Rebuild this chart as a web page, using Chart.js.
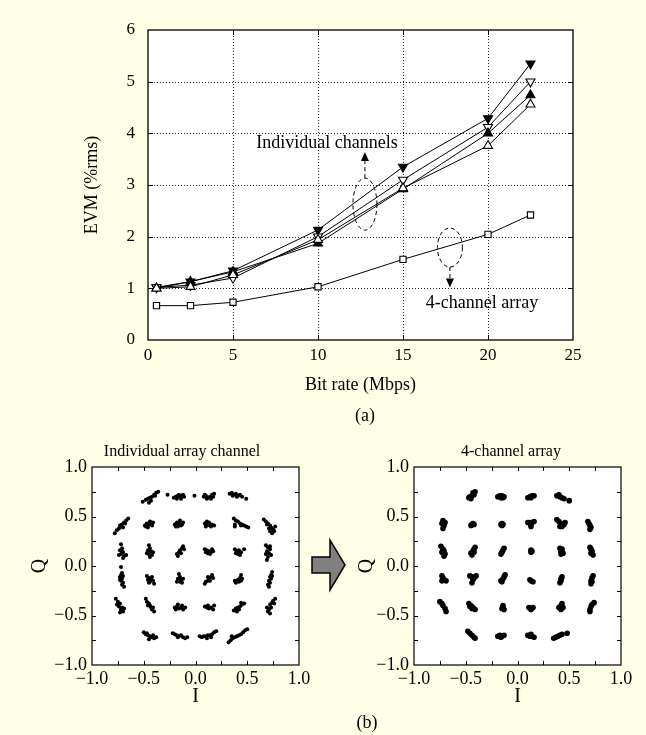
<!DOCTYPE html>
<html>
<head>
<meta charset="utf-8">
<script src="https://cdn.jsdelivr.net/npm/chart.js@4.4.1/dist/chart.umd.min.js"></script>
<style>
  html, body { margin: 0; padding: 0; }
  body { width: 646px; height: 735px; background: #ffffe6; position: relative; overflow: hidden; font-family: 'Liberation Serif', serif; }
  canvas { position: absolute; }
  #evm { left: 0; top: 0; }
  #chan { left: 0; top: 430px; }
  #arr { left: 320px; top: 430px; }
  .cap { position: absolute; font-size: 18px; color: #000; transform: translate(-50%, -50%); white-space: nowrap; }
  #bigArrow { position: absolute; left: 0; top: 0; }
</style>
</head>
<body>
<canvas id="evm" width="646" height="430"></canvas>
<canvas id="chan" width="320" height="305"></canvas>
<canvas id="arr" width="326" height="305"></canvas>
<svg id="bigArrow" width="646" height="735">
  <polygon points="312,557 330,557 330,540 345,565 330,590 330,573 312,573" fill="#808080" stroke="#000" stroke-width="1.5"/>
</svg>
<div class="cap" style="left:365px; top:415px;">(a)</div>
<div class="cap" style="left:367px; top:722px;">(b)</div>
<script>
// (a) EVM vs bit rate
const bitRate = [0.5, 2.5, 5, 10, 15, 20, 22.5];
const evmFilledDown = [1.02, 1.13, 1.34, 2.13, 3.35, 4.29, 5.35];
const evmOpenDown = [1.02, 1.06, 1.20, 2.00, 3.10, 4.12, 5.00];
const evmFilledUp = [1.00, 1.13, 1.32, 1.87, 2.92, 4.00, 4.74];
const evmOpenUp = [1.00, 1.03, 1.26, 1.94, 2.94, 3.76, 4.56];
const evmArray = [0.665, 0.665, 0.73, 1.03, 1.56, 2.045, 2.42];
const evmXTicks = [5, 10, 15, 20];
const evmYTicks = [1, 2, 3, 4, 5];

// (b) constellations, [I, Q]
const channelPoints = [
  // row Q ~ 0.70
  [-0.51,0.65],[-0.48,0.67],[-0.46,0.68],[-0.44,0.69],[-0.42,0.70],[-0.40,0.72],[-0.38,0.74],[-0.36,0.75],[-0.45,0.64],[-0.43,0.66],[-0.39,0.71],[-0.27,0.72],
  [-0.21,0.69],[-0.19,0.70],[-0.17,0.71],[-0.15,0.70],[-0.13,0.71],[-0.11,0.70],[-0.18,0.68],[-0.14,0.68],[-0.12,0.72],[-0.16,0.72],[-0.01,0.71],
  [0.08,0.70],[0.10,0.71],[0.12,0.69],[0.14,0.70],[0.16,0.72],[0.18,0.73],[0.11,0.68],[0.15,0.68],[0.09,0.72],[0.17,0.70],
  [0.33,0.73],[0.35,0.74],[0.37,0.72],[0.39,0.73],[0.41,0.71],[0.43,0.72],[0.45,0.70],[0.49,0.68],[0.36,0.71],[0.40,0.70],
  // row Q ~ 0.42
  [-0.78,0.33],[-0.76,0.36],[-0.74,0.38],[-0.72,0.40],[-0.71,0.42],[-0.69,0.44],[-0.67,0.46],[-0.65,0.48],[-0.73,0.41],[-0.70,0.39],[-0.68,0.43],
  [-0.49,0.41],[-0.47,0.43],[-0.45,0.42],[-0.43,0.44],[-0.42,0.41],[-0.46,0.39],[-0.44,0.45],[-0.48,0.40],[-0.41,0.44],
  [-0.20,0.42],[-0.18,0.44],[-0.16,0.43],[-0.14,0.41],[-0.12,0.44],[-0.17,0.40],[-0.15,0.46],[-0.13,0.42],[-0.19,0.40],
  [0.09,0.43],[0.11,0.45],[0.12,0.42],[0.14,0.41],[0.16,0.42],[0.18,0.41],[0.10,0.40],[0.13,0.44],[0.15,0.40],
  [0.37,0.48],[0.39,0.46],[0.41,0.45],[0.43,0.43],[0.45,0.42],[0.47,0.41],[0.49,0.40],[0.51,0.39],[0.38,0.42],[0.38,0.40],[0.44,0.41],
  [0.66,0.47],[0.68,0.45],[0.70,0.43],[0.72,0.41],[0.73,0.39],[0.75,0.37],[0.76,0.35],[0.74,0.33],[0.71,0.38],[0.69,0.42],[0.77,0.40],[0.72,0.35],
  // row Q ~ 0.15
  [-0.72,0.22],[-0.71,0.18],[-0.73,0.16],[-0.70,0.14],[-0.72,0.12],[-0.69,0.10],[-0.74,0.11],[-0.70,0.08],[-0.67,0.11],[-0.71,0.15],
  [-0.45,0.21],[-0.44,0.18],[-0.46,0.16],[-0.43,0.15],[-0.41,0.14],[-0.45,0.12],[-0.42,0.11],[-0.44,0.09],[-0.47,0.13],
  [-0.12,0.20],[-0.13,0.18],[-0.15,0.16],[-0.16,0.14],[-0.18,0.12],[-0.14,0.13],[-0.17,0.10],[-0.11,0.17],
  [0.09,0.17],[0.11,0.16],[0.13,0.15],[0.15,0.14],[0.17,0.15],[0.12,0.13],[0.14,0.12],[0.16,0.17],[0.10,0.14],
  [0.38,0.17],[0.40,0.15],[0.42,0.16],[0.44,0.14],[0.43,0.11],[0.41,0.12],[0.47,0.17],[0.39,0.13],
  [0.68,0.21],[0.70,0.19],[0.72,0.17],[0.69,0.15],[0.71,0.13],[0.73,0.11],[0.70,0.09],[0.68,0.12],[0.72,0.20],[0.69,0.06],
  // row Q ~ -0.14
  [-0.72,-0.01],[-0.71,-0.07],[-0.72,-0.09],[-0.73,-0.11],[-0.71,-0.13],[-0.72,-0.15],[-0.70,-0.17],[-0.71,-0.19],[-0.69,-0.21],[-0.73,-0.14],[-0.70,-0.10],
  [-0.47,-0.10],[-0.45,-0.12],[-0.43,-0.13],[-0.41,-0.15],[-0.44,-0.16],[-0.46,-0.14],[-0.42,-0.11],[-0.40,-0.18],[-0.45,-0.17],
  [-0.16,-0.08],[-0.15,-0.11],[-0.17,-0.13],[-0.14,-0.14],[-0.12,-0.13],[-0.15,-0.16],[-0.13,-0.17],[-0.18,-0.16],
  [0.16,-0.09],[0.15,-0.11],[0.13,-0.13],[0.12,-0.15],[0.10,-0.16],[0.14,-0.15],[0.17,-0.12],[0.09,-0.18],[0.12,-0.11],
  [0.44,-0.09],[0.43,-0.12],[0.41,-0.14],[0.44,-0.15],[0.42,-0.16],[0.39,-0.17],[0.45,-0.13],[0.38,-0.15],
  [0.74,-0.06],[0.73,-0.09],[0.72,-0.11],[0.73,-0.13],[0.71,-0.15],[0.72,-0.17],[0.70,-0.19],[0.71,-0.21],[0.74,-0.10],
  // row Q ~ -0.42
  [-0.77,-0.33],[-0.75,-0.36],[-0.73,-0.38],[-0.74,-0.41],[-0.71,-0.42],[-0.72,-0.44],[-0.70,-0.46],[-0.73,-0.47],[-0.69,-0.43],[-0.76,-0.39],
  [-0.48,-0.33],[-0.47,-0.36],[-0.45,-0.38],[-0.44,-0.40],[-0.43,-0.42],[-0.42,-0.44],[-0.40,-0.46],[-0.41,-0.42],[-0.46,-0.40],
  [-0.20,-0.42],[-0.18,-0.41],[-0.16,-0.43],[-0.14,-0.42],[-0.12,-0.44],[-0.10,-0.42],[-0.17,-0.39],[-0.13,-0.40],[-0.19,-0.44],
  [0.09,-0.41],[0.11,-0.42],[0.13,-0.43],[0.15,-0.42],[0.17,-0.44],[0.12,-0.40],[0.18,-0.40],
  [0.37,-0.45],[0.39,-0.43],[0.41,-0.42],[0.43,-0.41],[0.45,-0.39],[0.47,-0.38],[0.40,-0.46],[0.42,-0.44],[0.44,-0.37],
  [0.77,-0.33],[0.75,-0.35],[0.74,-0.37],[0.72,-0.39],[0.73,-0.42],[0.71,-0.44],[0.70,-0.46],[0.72,-0.48],[0.76,-0.38],[0.69,-0.42],
  // row Q ~ -0.71
  [-0.50,-0.67],[-0.48,-0.69],[-0.46,-0.70],[-0.44,-0.71],[-0.42,-0.72],[-0.40,-0.73],[-0.38,-0.72],[-0.45,-0.74],[-0.47,-0.68],[-0.41,-0.70],
  [-0.22,-0.68],[-0.20,-0.69],[-0.18,-0.70],[-0.16,-0.71],[-0.14,-0.70],[-0.12,-0.72],[-0.10,-0.73],[-0.17,-0.72],[-0.08,-0.72],
  [0.04,-0.71],[0.06,-0.72],[0.08,-0.71],[0.10,-0.71],[0.12,-0.70],[0.14,-0.70],[0.16,-0.69],[0.18,-0.67],[0.20,-0.66],[0.11,-0.73],[0.15,-0.72],
  [0.32,-0.77],[0.34,-0.75],[0.36,-0.73],[0.38,-0.72],[0.40,-0.71],[0.42,-0.70],[0.44,-0.69],[0.46,-0.67],[0.48,-0.65],[0.50,-0.64],[0.35,-0.71]
];

const arrayPoints = [
  [-0.46,0.70],[-0.44,0.71],[-0.42,0.72],[-0.43,0.74],[-0.45,0.68],[-0.41,0.75],[-0.47,0.69],
  [-0.19,0.70],[-0.17,0.71],[-0.15,0.71],[-0.13,0.70],[-0.16,0.69],[-0.14,0.69],
  [0.10,0.69],[0.12,0.70],[0.14,0.71],[0.16,0.71],[0.13,0.69],
  [0.38,0.71],[0.40,0.72],[0.41,0.70],[0.43,0.69],[0.45,0.68],[0.50,0.66],
  [-0.72,0.46],[-0.73,0.43],[-0.71,0.41],[-0.72,0.38],[-0.70,0.44],
  [-0.45,0.41],[-0.44,0.42],[-0.43,0.43],[-0.42,0.42],
  [-0.16,0.42],[-0.14,0.42],[-0.15,0.43],[-0.15,0.41],
  [0.10,0.44],[0.12,0.44],[0.14,0.44],[0.16,0.45],[0.13,0.42],[0.13,0.40],
  [0.38,0.47],[0.40,0.45],[0.42,0.43],[0.43,0.40],[0.45,0.42],[0.46,0.44],[0.41,0.40],
  [0.68,0.45],[0.69,0.43],[0.70,0.41],[0.71,0.39],[0.70,0.37],
  [-0.74,0.20],[-0.72,0.17],[-0.71,0.15],[-0.73,0.14],[-0.70,0.12],[-0.71,0.10],
  [-0.41,0.19],[-0.42,0.17],[-0.43,0.15],[-0.45,0.13],[-0.44,0.11],[-0.42,0.14],
  [-0.13,0.18],[-0.14,0.16],[-0.15,0.14],[-0.16,0.12],
  [0.13,0.16],[0.14,0.15],[0.13,0.14],
  [0.41,0.18],[0.43,0.17],[0.42,0.15],[0.44,0.13],[0.42,0.12],
  [0.70,0.19],[0.71,0.17],[0.72,0.15],[0.71,0.13],[0.73,0.11],
  [-0.73,-0.10],[-0.72,-0.12],[-0.71,-0.14],[-0.73,-0.15],[-0.69,-0.15],
  [-0.46,-0.10],[-0.44,-0.11],[-0.42,-0.12],[-0.40,-0.10],[-0.43,-0.14],[-0.44,-0.17],
  [-0.12,-0.09],[-0.13,-0.11],[-0.14,-0.13],[-0.16,-0.15],[-0.15,-0.16],
  [0.12,-0.14],[0.13,-0.15],[0.15,-0.16],
  [0.43,-0.11],[0.42,-0.13],[0.42,-0.15],[0.41,-0.17],
  [0.73,-0.10],[0.72,-0.12],[0.71,-0.15],[0.71,-0.18],[0.72,-0.16],
  [-0.75,-0.36],[-0.73,-0.38],[-0.72,-0.40],[-0.70,-0.43],[-0.69,-0.46],
  [-0.47,-0.38],[-0.45,-0.40],[-0.43,-0.42],[-0.41,-0.44],[-0.44,-0.43],[-0.46,-0.41],
  [-0.14,-0.40],[-0.14,-0.42],[-0.13,-0.44],[-0.15,-0.43],
  [0.11,-0.42],[0.13,-0.43],[0.15,-0.42],[0.13,-0.44],
  [0.40,-0.42],[0.42,-0.40],[0.43,-0.38],[0.44,-0.42],[0.42,-0.44],
  [0.74,-0.37],[0.72,-0.39],[0.71,-0.41],[0.70,-0.44],[0.70,-0.46],
  [-0.48,-0.66],[-0.46,-0.68],[-0.44,-0.70],[-0.42,-0.72],[-0.41,-0.73],
  [-0.19,-0.71],[-0.17,-0.70],[-0.15,-0.71],[-0.13,-0.70],[-0.16,-0.72],
  [0.10,-0.70],[0.12,-0.71],[0.14,-0.71],[0.16,-0.72],[0.13,-0.69],
  [0.35,-0.73],[0.37,-0.72],[0.39,-0.71],[0.41,-0.70],[0.43,-0.69],[0.48,-0.68]
];
const iqMinorTicks = [-0.75, -0.5, -0.25, 0, 0.25, 0.5, 0.75];

const serif = 'Liberation Serif';

// white plot area, dotted grid, full box and inward ticks
const frame = {
  id: 'frame',
  beforeDatasetsDraw(chart, args, opts) {
    const {ctx, chartArea: a, scales: {x, y}} = chart;
    ctx.save();
    ctx.fillStyle = '#fff';
    ctx.fillRect(a.left, a.top, a.width, a.height);
    if (opts.grid) {
      ctx.strokeStyle = '#222';
      ctx.lineWidth = 1;
      ctx.setLineDash([1, 2]);
      opts.xTicks.forEach(v => {
        const px = Math.round(x.getPixelForValue(v)) + 0.5;
        ctx.beginPath(); ctx.moveTo(px, a.top); ctx.lineTo(px, a.bottom); ctx.stroke();
      });
      opts.yTicks.forEach(v => {
        const py = Math.round(y.getPixelForValue(v)) + 0.5;
        ctx.beginPath(); ctx.moveTo(a.left, py); ctx.lineTo(a.right, py); ctx.stroke();
      });
    }
    ctx.restore();
  },
  afterDatasetsDraw(chart, args, opts) {
    const {ctx, chartArea: a, scales: {x, y}} = chart;
    const t = opts.tickLen;
    ctx.save();
    ctx.strokeStyle = '#000';
    ctx.lineWidth = 1;
    opts.xTicks.forEach(v => {
      const px = Math.round(x.getPixelForValue(v)) + 0.5;
      ctx.beginPath();
      ctx.moveTo(px, a.bottom); ctx.lineTo(px, a.bottom - t);
      ctx.moveTo(px, a.top); ctx.lineTo(px, a.top + t);
      ctx.stroke();
    });
    opts.yTicks.forEach(v => {
      const py = Math.round(y.getPixelForValue(v)) + 0.5;
      ctx.beginPath();
      ctx.moveTo(a.left, py); ctx.lineTo(a.left + t, py);
      ctx.moveTo(a.right, py); ctx.lineTo(a.right - t, py);
      ctx.stroke();
    });
    ctx.lineWidth = opts.boxWidth;
    ctx.strokeRect(a.left, a.top, a.width, a.height);
    ctx.restore();
  }
};

// ellipses, dashed arrows and labels of panel (a)
const notes = {
  id: 'notes',
  afterDatasetsDraw(chart) {
    const {ctx, scales: {x, y}} = chart;
    const head = (cx, tipY, dir) => {
      ctx.beginPath();
      ctx.moveTo(cx, tipY);
      ctx.lineTo(cx - 4, tipY - dir * 9);
      ctx.lineTo(cx + 4, tipY - dir * 9);
      ctx.closePath();
      ctx.fill();
    };
    ctx.save();
    ctx.strokeStyle = '#000';
    ctx.fillStyle = '#000';
    ctx.lineWidth = 1;
    ctx.setLineDash([4, 3]);

    const c1x = x.getPixelForValue(12.76), c1y = y.getPixelForValue(2.63);
    ctx.beginPath(); ctx.ellipse(c1x, c1y, 12, 26, 0, 0, Math.PI * 2); ctx.stroke();
    ctx.beginPath(); ctx.moveTo(c1x, c1y - 26); ctx.lineTo(c1x, c1y - 43); ctx.stroke();

    const c2x = x.getPixelForValue(17.76), c2y = y.getPixelForValue(1.79);
    ctx.beginPath(); ctx.ellipse(c2x, c2y, 12.5, 19.5, 0, 0, Math.PI * 2); ctx.stroke();
    ctx.beginPath(); ctx.moveTo(c2x, c2y + 19.5); ctx.lineTo(c2x, c2y + 32); ctx.stroke();

    ctx.setLineDash([]);
    head(c1x, c1y - 52, -1);
    head(c2x, c2y + 40, 1);

    ctx.font = '18px "' + serif + '"';
    ctx.textAlign = 'center';
    ctx.textBaseline = 'middle';
    ctx.fillText('Individual channels', x.getPixelForValue(10.53), y.getPixelForValue(3.81));
    ctx.fillText('4-channel array', x.getPixelForValue(19.65), y.getPixelForValue(0.716));
    ctx.restore();
  }
};

const line = (data, style, fill, rotation) => ({
  data: bitRate.map((b, i) => ({x: b, y: data[i]})),
  showLine: true,
  borderColor: '#000',
  borderWidth: 1,
  pointStyle: style,
  rotation: rotation,
  pointRadius: style === 'rect' ? 4.4 : 5.2,
  pointBorderWidth: 1.1,
  pointBorderColor: '#000',
  pointBackgroundColor: fill
});

new Chart(document.getElementById('evm'), {
  type: 'scatter',
  data: {
    datasets: [
      line(evmArray, 'rect', '#fff', 0),
      line(evmOpenUp, 'triangle', '#fff', 0),
      line(evmFilledUp, 'triangle', '#000', 0),
      line(evmOpenDown, 'triangle', '#fff', 180),
      line(evmFilledDown, 'triangle', '#000', 180)
    ]
  },
  options: {
    responsive: false,
    animation: false,
    layout: { padding: { left: 81, right: 73, top: 30, bottom: 34 } },
    plugins: {
      legend: { display: false },
      tooltip: { enabled: false },
      frame: { grid: true, xTicks: evmXTicks, yTicks: evmYTicks, tickLen: 5, boxWidth: 1.3 }
    },
    scales: {
      x: {
        type: 'linear', min: 0, max: 25,
        afterFit: s => { s.height = 56; },
        grid: { display: false, drawTicks: false },
        border: { display: false },
        ticks: { stepSize: 5, color: '#000', padding: 5, font: { family: serif, size: 17 } },
        title: { display: true, text: 'Bit rate (Mbps)', color: '#000', padding: 0, font: { family: serif, size: 18 } }
      },
      y: {
        min: 0, max: 6,
        afterFit: s => { s.width = 67; },
        grid: { display: false, drawTicks: false },
        border: { display: false },
        ticks: { stepSize: 1, color: '#000', padding: 13, font: { family: serif, size: 17 } },
        title: { display: true, text: 'EVM (%rms)', color: '#000', padding: 0, font: { family: serif, size: 18 } }
      }
    }
  },
  plugins: [frame, notes]
});

const fmt = v => v.toFixed(1).replace('-', '\u2212');

const titleText = {
  id: 'titleText',
  afterDraw(chart, args, opts) {
    const {ctx} = chart;
    ctx.save();
    ctx.font = '16px "' + serif + '"';
    ctx.fillStyle = '#000';
    ctx.textAlign = 'center';
    ctx.textBaseline = 'middle';
    ctx.fillText(opts.text, opts.x, opts.y);
    ctx.restore();
  }
};

function constellation(id, points, radius, leftPad, rightPad, yWidth, title, titleX) {
  new Chart(document.getElementById(id), {
    type: 'scatter',
    data: {
      datasets: [{
        data: points.map(p => ({x: p[0], y: p[1]})),
        pointRadius: radius,
        pointBorderWidth: 0,
        pointBackgroundColor: '#000',
        pointBorderColor: '#000'
      }]
    },
    options: {
      responsive: false,
      animation: false,
      layout: { padding: { left: leftPad, right: rightPad, top: 37, bottom: 26 } },
      plugins: {
        legend: { display: false },
        tooltip: { enabled: false },
        frame: { grid: false, xTicks: iqMinorTicks, yTicks: iqMinorTicks, tickLen: 4, boxWidth: 1.2 },
        titleText: { text: title, x: titleX, y: 22 }
      },
      scales: {
        x: {
          type: 'linear', min: -1, max: 1,
          afterFit: s => { s.height = 44; },
          grid: { display: false, drawTicks: false },
          border: { display: false },
          ticks: { stepSize: 0.5, color: '#000', padding: 3, callback: fmt, font: { family: serif, size: 18 } },
          title: { display: true, text: 'I', color: '#000', padding: 0, font: { family: serif, size: 20 } }
        },
        y: {
          min: -1, max: 1,
          afterFit: s => { s.width = yWidth; },
          grid: { display: false, drawTicks: false },
          border: { display: false },
          ticks: { stepSize: 0.5, color: '#000', padding: 5, callback: fmt, font: { family: serif, size: 18 } },
          title: { display: true, text: 'Q', color: '#000', padding: 0, font: { family: serif, size: 20 } }
        }
      }
    },
    plugins: [frame, titleText]
  });
}

constellation('chan', channelPoints, 2.0, 28, 21, 64, 'Individual array channel', 182);
constellation('arr', arrayPoints, 2.8, 35, 25, 59, '4-channel array', 191);
</script>
</body>
</html>
